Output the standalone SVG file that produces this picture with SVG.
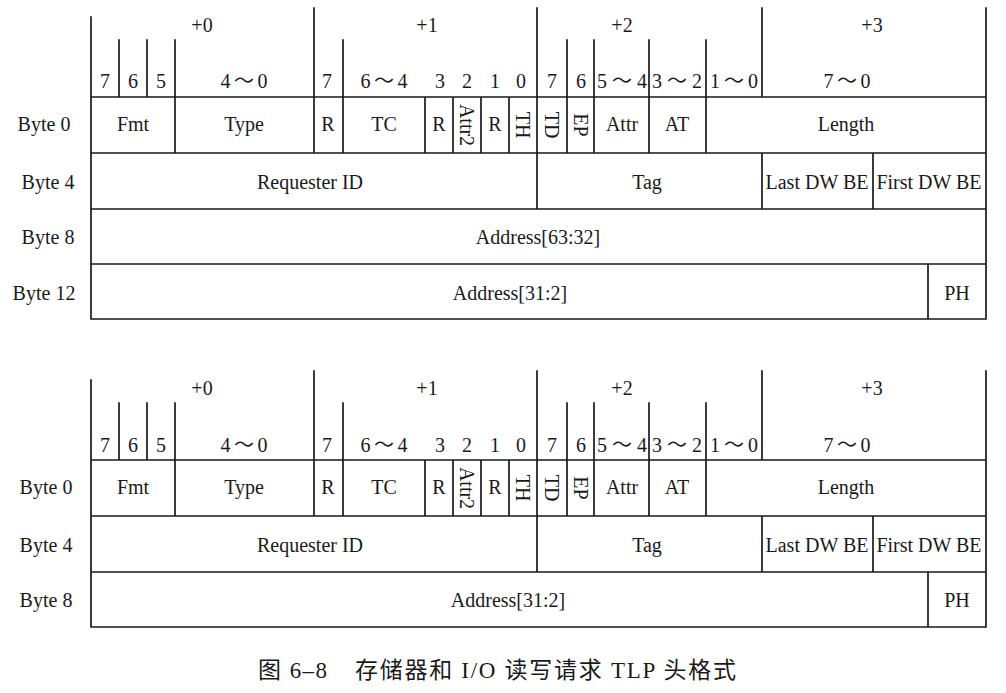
<svg xmlns="http://www.w3.org/2000/svg" width="1006" height="693" viewBox="0 0 1006 693">
<style>
.ln{stroke:#1a1a1a;stroke-width:1.7;fill:none;stroke-linecap:square}
.t{font-family:"Liberation Serif","Noto Sans CJK SC",serif;font-size:20px;fill:#1a1a1a;text-anchor:middle}
.cap{font-family:"Liberation Serif","Noto Sans CJK SC",serif;font-size:23px;fill:#1a1a1a}
</style>
<rect width="1006" height="693" fill="#fff"/>
<g id="connectors">
<path class="ln" d="M91,97H986M91,153H986M91,209H986M91,264H986M91,319H986
M91,17V319M986,8V319M314,8V153M537,8V209M762,8V97M762,153V209
M119,40V97M147,40V97M175,40V153M343,40V153
M425,97V153M453,97V153M481,97V153M509,97V153
M567,40V153M594,40V153M649,40V153M706,40V153
M873,153V209M928,264V319"/>
<path class="ln" d="M91,460H986M91,516H986M91,572H986M91,627H986
M91,380V627M986,371V627M314,371V516M537,371V572M762,371V460M762,516V572
M119,403V460M147,403V460M175,403V516M343,403V516
M425,460V516M453,460V516M481,460V516M509,460V516
M567,403V516M594,403V516M649,403V516M706,403V516
M873,516V572M928,572V627"/>
</g>
<g id="table1-header">
<text class="t" x="202" y="32">+0</text>
<text class="t" x="427" y="32">+1</text>
<text class="t" x="622" y="32">+2</text>
<text class="t" x="872" y="32">+3</text>
<text class="t" x="105" y="88">7</text>
<text class="t" x="133" y="88">6</text>
<text class="t" x="161" y="88">5</text>
<text class="t" x="244" y="88" textLength="47" lengthAdjust="spacing">4～0</text>
<text class="t" x="327" y="88">7</text>
<text class="t" x="384" y="88" textLength="47" lengthAdjust="spacing">6～4</text>
<text class="t" x="440" y="88">3</text>
<text class="t" x="467" y="88">2</text>
<text class="t" x="495" y="88">1</text>
<text class="t" x="521" y="88">0</text>
<text class="t" x="552" y="88">7</text>
<text class="t" x="581" y="88">6</text>
<text class="t" x="622" y="88" textLength="50" lengthAdjust="spacing">5～4</text>
<text class="t" x="677" y="88" textLength="50" lengthAdjust="spacing">3～2</text>
<text class="t" x="734" y="88" textLength="48" lengthAdjust="spacing">1～0</text>
<text class="t" x="847" y="88" textLength="47" lengthAdjust="spacing">7～0</text>
</g>
<g id="table1-byte0">
<text class="t" x="44" y="131">Byte 0</text>
<text class="t" x="133" y="131">Fmt</text>
<text class="t" x="244" y="131">Type</text>
<text class="t" x="328" y="131">R</text>
<text class="t" x="384" y="131">TC</text>
<text class="t" x="439" y="131">R</text>
<text class="t" transform="translate(460,125) rotate(90)">Attr2</text>
<text class="t" x="495" y="131">R</text>
<text class="t" transform="translate(516,125) rotate(90)">TH</text>
<text class="t" transform="translate(545,125) rotate(90)">TD</text>
<text class="t" transform="translate(574,125) rotate(90)">EP</text>
<text class="t" x="622" y="131">Attr</text>
<text class="t" x="677" y="131">AT</text>
<text class="t" x="846" y="131">Length</text>
</g>
<g id="table1-byte4">
<text class="t" x="48" y="189">Byte 4</text>
<text class="t" x="310" y="189">Requester ID</text>
<text class="t" x="647" y="189">Tag</text>
<text class="t" x="817" y="189">Last DW BE</text>
<text class="t" x="929" y="189">First DW BE</text>
</g>
<g id="table1-byte8">
<text class="t" x="48" y="244">Byte 8</text>
<text class="t" x="538" y="244">Address[63:32]</text>
</g>
<g id="table1-byte12">
<text class="t" x="44" y="300">Byte 12</text>
<text class="t" x="510" y="300">Address[31:2]</text>
<text class="t" x="957" y="300">PH</text>
</g>
<g id="table2-header">
<text class="t" x="202" y="395">+0</text>
<text class="t" x="427" y="395">+1</text>
<text class="t" x="622" y="395">+2</text>
<text class="t" x="872" y="395">+3</text>
<text class="t" x="105" y="452">7</text>
<text class="t" x="133" y="452">6</text>
<text class="t" x="161" y="452">5</text>
<text class="t" x="244" y="452" textLength="47" lengthAdjust="spacing">4～0</text>
<text class="t" x="327" y="452">7</text>
<text class="t" x="384" y="452" textLength="47" lengthAdjust="spacing">6～4</text>
<text class="t" x="440" y="452">3</text>
<text class="t" x="467" y="452">2</text>
<text class="t" x="495" y="452">1</text>
<text class="t" x="521" y="452">0</text>
<text class="t" x="552" y="452">7</text>
<text class="t" x="581" y="452">6</text>
<text class="t" x="622" y="452" textLength="50" lengthAdjust="spacing">5～4</text>
<text class="t" x="677" y="452" textLength="50" lengthAdjust="spacing">3～2</text>
<text class="t" x="734" y="452" textLength="48" lengthAdjust="spacing">1～0</text>
<text class="t" x="847" y="452" textLength="47" lengthAdjust="spacing">7～0</text>
</g>
<g id="table2-byte0">
<text class="t" x="46" y="494">Byte 0</text>
<text class="t" x="133" y="494">Fmt</text>
<text class="t" x="244" y="494">Type</text>
<text class="t" x="328" y="494">R</text>
<text class="t" x="384" y="494">TC</text>
<text class="t" x="439" y="494">R</text>
<text class="t" transform="translate(460,488) rotate(90)">Attr2</text>
<text class="t" x="495" y="494">R</text>
<text class="t" transform="translate(516,488) rotate(90)">TH</text>
<text class="t" transform="translate(545,488) rotate(90)">TD</text>
<text class="t" transform="translate(574,488) rotate(90)">EP</text>
<text class="t" x="622" y="494">Attr</text>
<text class="t" x="677" y="494">AT</text>
<text class="t" x="846" y="494">Length</text>
</g>
<g id="table2-byte4">
<text class="t" x="46" y="552">Byte 4</text>
<text class="t" x="310" y="552">Requester ID</text>
<text class="t" x="647" y="552">Tag</text>
<text class="t" x="817" y="552">Last DW BE</text>
<text class="t" x="929" y="552">First DW BE</text>
</g>
<g id="table2-byte8">
<text class="t" x="46" y="607">Byte 8</text>
<text class="t" x="508" y="607">Address[31:2]</text>
<text class="t" x="957" y="607">PH</text>
</g>
<g id="caption">
<text class="cap" x="258" y="678" textLength="69" lengthAdjust="spacing">图 6–8</text>
<text class="cap" x="355" y="678" textLength="381" lengthAdjust="spacing">存储器和 I/O 读写请求 TLP 头格式</text>
</g>
</svg>
